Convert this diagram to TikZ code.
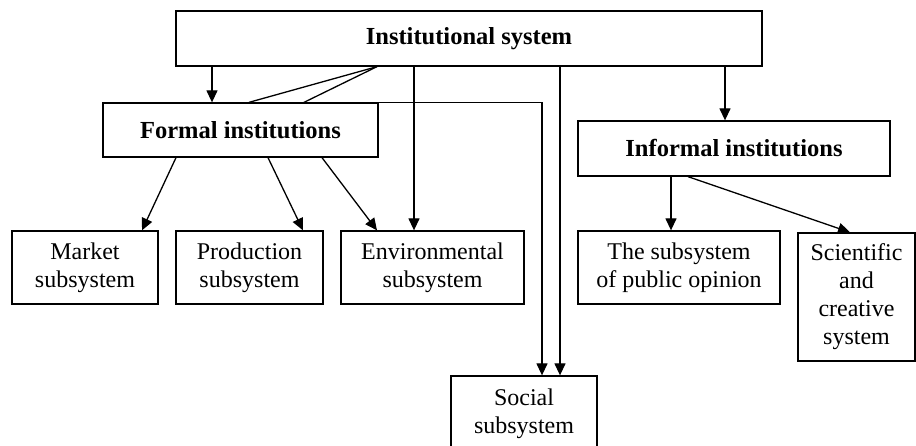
\documentclass[tikz,border=0pt]{standalone}
\usepackage{fontspec}
\setmainfont{Liberation Serif}
\usetikzlibrary{arrows.meta}

\begin{document}
\begin{tikzpicture}[x=1pt, y=-1pt]
        % ================= styles =================
        \tikzset{
            % plain box with black frame
            sysbox/.style={draw=black, line width=1.3pt, fill=white, inner sep=2pt, align=center,
                font=\fontsize{24}{28}\selectfont},
            % bold heading box
            headbox/.style={sysbox, font=\fontsize{24.5}{28}\selectfont\bfseries},
            % arrow connector
            arr/.style={line width=1.3pt, -{Triangle[length=12pt, width=11pt]}},
            % plain connector
            link/.style={line width=1.3pt}
        }

        \useasboundingbox (0,0) rectangle (916,446);

        % ================= upper levels =================
        \node[headbox, minimum width=586, minimum height=55] (inst) at (469,38.5) {Institutional system};
        \node[headbox, minimum width=275, minimum height=54] (formal) at (240.5,130) {Formal institutions};
        \node[headbox, minimum width=312, minimum height=55] (informal) at (734,148.5) {Informal institutions};

        % ================= subsystems =================
        \node[sysbox, minimum width=146, minimum height=73] (market) at (85,267.5) {Market\\subsystem};
        \node[sysbox, minimum width=147, minimum height=73] (prod) at (249.5,267.5) {Production\\subsystem};
        \node[sysbox, minimum width=183, minimum height=73] (env) at (432.5,267.5) {Environmental\\subsystem};
        \node[sysbox, minimum width=202, minimum height=73] (opinion) at (679,267.5) {The subsystem\\of public opinion};
        \node[sysbox, minimum width=117, minimum height=128] (sci) at (856.5,297) {Scientific\\and\\creative\\system};
        % bottom edge runs off the page
        \node[sysbox, minimum width=146, minimum height=76] (social) at (524,414) {Social\\subsystem};

        % ================= connectors from the institutional system =================
        \draw[arr] (inst.south -| 212,0) -- (formal.north -| 212,0);
        \draw[link] (inst.south -| 377,0) -- (formal.north -| 249,0);
        \draw[link] (inst.south -| 377,0) -- (formal.north -| 304,0);
        \draw[arr] (inst.south -| 414,0) -- (env.north -| 414,0);
        \draw[arr] (inst.south -| 560,0) -- (social.north -| 560,0);
        \draw[arr] (inst.south -| 725,0) -- (informal.north -| 725,0);

        % formal institutions -> social subsystem (along the top edge)
        \draw[arr] (formal.north east) -- (formal.north east -| 542,0) -- (social.north -| 542,0);

        % ================= formal institutions =================
        \draw[arr] (formal.south -| 176,0) -- (market.north -| 142,0);
        \draw[arr] (formal.south -| 268,0) -- (prod.north -| 303,0);
        \draw[arr] (formal.south -| 322,0) -- (env.north -| 377,0);

        % ================= informal institutions =================
        \draw[arr] (informal.south -| 671,0) -- (opinion.north -| 671,0);
        \draw[arr] (informal.south -| 688,0) -- (sci.north -| 850,0);

    \end{tikzpicture}
\end{document}
